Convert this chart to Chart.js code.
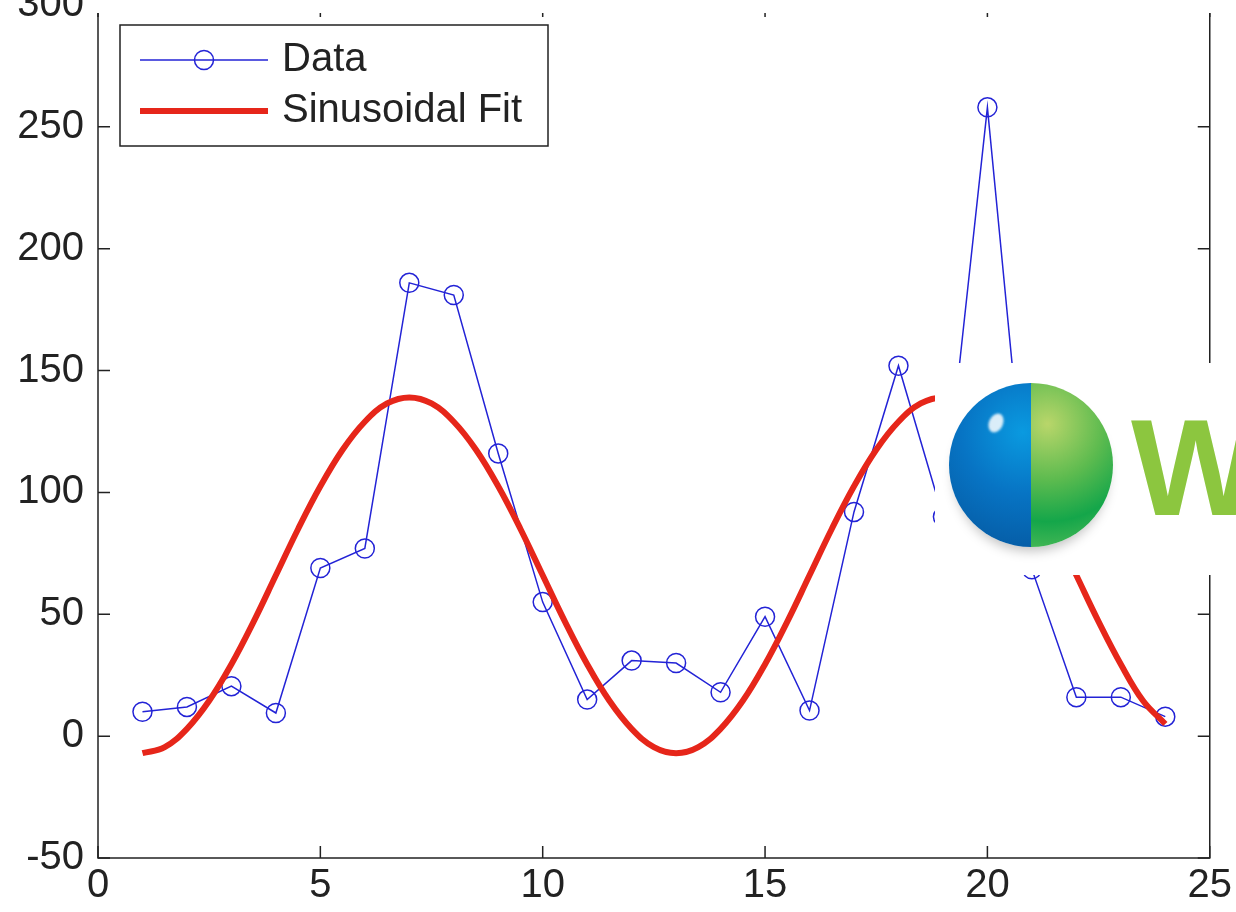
<!DOCTYPE html>
<html>
<head>
<meta charset="utf-8">
<script src="https://cdn.jsdelivr.net/npm/chart.js@4.4.1/dist/chart.umd.min.js"></script>
<style>
  html, body { margin: 0; padding: 0; background: #fff; }
  #wrap { position: relative; width: 1236px; height: 912px; overflow: hidden; background: #fff; }
  #chart { position: absolute; left: 0; top: -40px; }
  /* the reference is cropped just under the top frame line */
  .crop { position: absolute; left: 92px; top: 0; width: 1144px; height: 13px; background: #fff; }
  .logo { position: absolute; left: 935px; top: 363px; width: 301px; height: 212px; background: #fff; }
  .ball { position: absolute; left: 14px; top: 20px; width: 164px; height: 164px; border-radius: 50%;
          overflow: hidden; box-shadow: 0 9px 12px -5px rgba(0,0,0,0.25); }
  .ball .b { position: absolute; left: 0; top: 0; width: 50%; height: 100%;
             background: radial-gradient(circle at 90% 30%, #0a9ae0 0%, #0774c4 45%, #05559c 100%); }
  .ball .g { position: absolute; right: 0; top: 0; width: 50%; height: 100%;
             background: radial-gradient(circle at 20% 25%, #b9d66a 0%, #5dbb4f 40%, #14a64a 70%, #5cbf5a 100%); }
  .ball .hl { position: absolute; left: 40px; top: 30px; width: 14px; height: 20px; border-radius: 50%;
              background: rgba(255,255,255,0.85); transform: rotate(25deg); filter: blur(1px); }
  .w { position: absolute; left: 196px; top: 36px; font: bold 137px "Liberation Sans", Arial, sans-serif;
       line-height: 1; color: #8cc63f; }
</style>
</head>
<body>
<div id="wrap">
  <canvas id="chart" width="1236" height="952"></canvas>
  <div class="crop"></div>
  <div class="logo">
    <div class="ball"><div class="b"></div><div class="g"></div><div class="hl"></div></div>
    <span class="w">W</span>
  </div>
</div>
<script>
// measured data (blue circles)
const xData = [1, 2, 3, 4, 5, 6, 7, 8, 9, 10, 11, 12, 13, 14, 15, 16, 17, 18, 19, 20, 21, 22, 23, 24];
const yData = [10, 12, 20.5, 9.5, 69, 77, 186, 181, 116, 55, 15, 31, 30, 18, 49, 10.5, 92, 152, 90, 258, 68.5, 16, 16, 8];

// sinusoidal fit (red curve), read every half unit
const xFit = [1, 1.5, 2, 2.5, 3, 3.5, 4, 4.5, 5, 5.5, 6, 6.5, 7, 7.5, 8, 8.5, 9, 9.5, 10, 10.5, 11, 11.5,
  12, 12.5, 13, 13.5, 14, 14.5, 15, 15.5, 16, 16.5, 17, 17.5, 18, 18.5, 19, 19.5, 20, 20.5, 21, 21.5,
  22, 22.5, 23, 23.5, 24];
const yFit = [-7, -4.5, 3, 14.5, 29.5, 47, 66, 85, 102.5, 117.5, 129, 136.5, 139, 136.5, 129, 117.5,
  102.5, 85, 66, 47, 29.5, 14.5, 3, -4.5, -7, -4.5, 3, 14.5, 29.5, 47, 66, 85, 102.5, 117.5, 129,
  136.5, 139, 136.5, 129, 117.5, 102.5, 85, 66, 47, 29.5, 14.5, 5];

const xTicks = [0, 5, 10, 15, 20, 25];
const yTicks = [-50, 0, 50, 100, 150, 200, 250, 300];

const seriesNames = ["Data", "Sinusoidal Fit"];
const BLUE = "#2323d6";
const RED = "#e6261a";
const INK = "#222";
const FONT = "'Liberation Sans', Arial, sans-serif";

/**
 * MATLAB style box with inward ticks on all four sides
 */
const boxFrame = {
  id: "boxFrame",
  afterDraw(chart) {
    const { ctx, chartArea: a, scales } = chart;
    const len = 12;
    ctx.save();
    ctx.strokeStyle = INK;
    ctx.lineWidth = 1.5;
    ctx.strokeRect(a.left, a.top, a.right - a.left, a.bottom - a.top);
    ctx.beginPath();
    scales.x.ticks.forEach((t) => {
      const px = scales.x.getPixelForValue(t.value);
      ctx.moveTo(px, a.bottom); ctx.lineTo(px, a.bottom - len);
      ctx.moveTo(px, a.top); ctx.lineTo(px, a.top + len);
    });
    scales.y.ticks.forEach((t) => {
      const py = scales.y.getPixelForValue(t.value);
      ctx.moveTo(a.left, py); ctx.lineTo(a.left + len, py);
      ctx.moveTo(a.right, py); ctx.lineTo(a.right - len, py);
    });
    ctx.stroke();
    ctx.restore();
  },
};

/**
 * legend drawn inside the plot, top left
 */
const insideLegend = {
  id: "insideLegend",
  afterDraw(chart) {
    const { ctx, chartArea: a } = chart;
    const bx = a.left + 22, by = a.top + 20, bw = 428, bh = 121;
    ctx.save();
    ctx.fillStyle = "#fff";
    ctx.fillRect(bx, by, bw, bh);
    ctx.strokeStyle = INK;
    ctx.lineWidth = 1.5;
    ctx.strokeRect(bx, by, bw, bh);

    const x0 = bx + 20, x1 = bx + 148, tx = bx + 162;
    const rows = [by + 35, by + 86];

    // Data row
    const dData = chart.data.datasets[1];
    ctx.strokeStyle = dData.borderColor;
    ctx.lineWidth = dData.borderWidth;
    ctx.beginPath();
    ctx.moveTo(x0, rows[0]); ctx.lineTo(x1, rows[0]);
    ctx.stroke();
    ctx.beginPath();
    ctx.arc((x0 + x1) / 2, rows[0], dData.pointRadius, 0, Math.PI * 2);
    ctx.stroke();

    // fit row
    const dFit = chart.data.datasets[0];
    ctx.strokeStyle = dFit.borderColor;
    ctx.lineWidth = dFit.borderWidth;
    ctx.beginPath();
    ctx.moveTo(x0, rows[1]); ctx.lineTo(x1, rows[1]);
    ctx.stroke();

    ctx.fillStyle = INK;
    ctx.font = "40px " + FONT;
    ctx.textBaseline = "middle";
    ctx.fillText(seriesNames[0], tx, rows[0]);
    ctx.fillText(seriesNames[1], tx, rows[1]);
    ctx.restore();
  },
};

new Chart(document.getElementById("chart"), {
  type: "line",
  data: {
    datasets: [
      {
        label: seriesNames[1],
        data: xFit.map((x, i) => ({ x, y: yFit[i] })),
        borderColor: RED,
        borderWidth: 6,
        pointRadius: 0,
        tension: 0.4,
        fill: false,
        order: 1,
      },
      {
        label: seriesNames[0],
        data: xData.map((x, i) => ({ x, y: yData[i] })),
        borderColor: BLUE,
        borderWidth: 1.5,
        pointRadius: 9.5,
        pointBorderWidth: 1.5,
        pointBorderColor: BLUE,
        pointBackgroundColor: "rgba(0,0,0,0)",
        tension: 0,
        fill: false,
        order: 2,
      },
    ],
  },
  options: {
    responsive: false,
    animation: false,
    events: [],
    layout: { padding: { top: 45, right: 26, bottom: 0, left: 0 } },
    plugins: {
      legend: { display: false },
      tooltip: { enabled: false },
    },
    scales: {
      x: {
        type: "linear",
        min: 0,
        max: 25,
        afterBuildTicks: (s) => { s.ticks = xTicks.map((v) => ({ value: v })); },
        afterFit: (s) => { s.height = 54; },
        grid: { display: false, drawTicks: false },
        border: { display: false },
        ticks: { color: INK, padding: 4, font: { size: 40, family: FONT } },
      },
      y: {
        type: "linear",
        min: -50,
        max: 300,
        afterBuildTicks: (s) => { s.ticks = yTicks.map((v) => ({ value: v })); },
        afterFit: (s) => { s.width = 98; },
        grid: { display: false, drawTicks: false },
        border: { display: false },
        ticks: { color: INK, padding: 14, font: { size: 40, family: FONT } },
      },
    },
  },
  plugins: [boxFrame, insideLegend],
});
</script>
</body>
</html>
